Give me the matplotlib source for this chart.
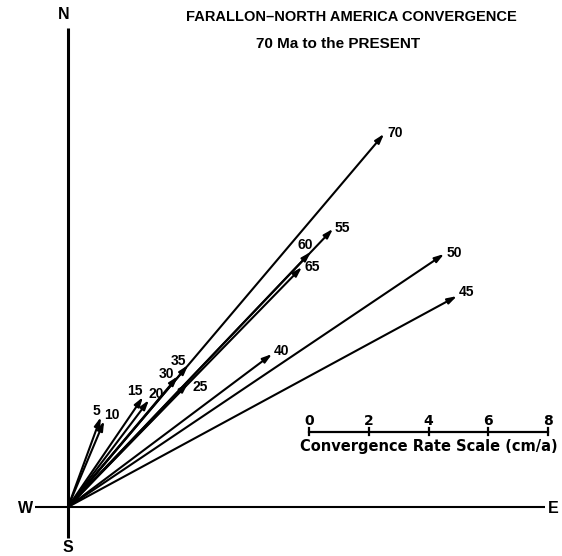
import numpy as np
import matplotlib.pyplot as plt
from matplotlib.patches import FancyArrowPatch

plt.rcParams['font.family'] = ['Liberation Sans', 'DejaVu Sans']
plt.rcParams['font.weight'] = 'bold'

# convergence vectors (cm/a), east and north components, by age (Ma)
ages = [5, 10, 15, 20, 25, 30, 35, 40, 45, 50, 55, 60, 65, 70]
v_east = [1.10, 1.21, 2.51, 2.71, 4.02, 3.68, 4.02, 6.83, 13.02, 12.59, 8.87, 8.13, 7.83, 10.58]
v_north = [3.01, 2.88, 3.68, 3.58, 4.15, 4.38, 4.75, 5.12, 7.06, 8.47, 9.31, 8.54, 8.03, 12.49]

scale_ticks = [0, 2, 4, 6, 8]

# label offsets from arrow tips, in pixels
lab_off = {5: (-4, 6), 10: (8, 6), 15: (-8, 6), 20: (7, 6), 25: (12, -4),
           30: (-11, 2), 35: (-10, 4), 40: (9, 3), 45: (10, 4), 50: (10, 1),
           55: (9, 1), 60: (-6, 7), 65: (10, 0), 70: (11, 1)}

fig = plt.figure(figsize=(5.62, 5.56), dpi=100)
ax = fig.add_axes([0, 0, 1, 1])
ax.set_xlim(-2.276, 16.536)
ax.set_ylim(-1.640, 16.971)
ax.set_aspect('equal')
ax.axis('off')

# compass axes
ax.plot([0, 0], [-1.04, 16.03], color='k', lw=2.2, solid_capstyle='butt')
ax.plot([-1.10, 15.97], [0, 0], color='k', lw=1.5, solid_capstyle='butt')
ax.text(-0.15, 16.5, 'N', ha='center', va='center', fontsize=11.5)
ax.text(0.0, -1.35, 'S', ha='center', va='center', fontsize=11.5)
ax.text(-1.43, -0.05, 'W', ha='center', va='center', fontsize=11.5)
ax.text(16.25, -0.05, 'E', ha='center', va='center', fontsize=11.5)

# convergence arrows
for a, e, n in zip(ages, v_east, v_north):
    arr = FancyArrowPatch((0, 0), (e, n), arrowstyle='-|>,head_length=0.55,head_width=0.17',
                          mutation_scale=10, lw=1.5, color='k', shrinkA=0, shrinkB=0)
    ax.add_patch(arr)
    dx, dy = lab_off[a]
    ax.annotate(str(a), xy=(e, n), xytext=(dx, dy), textcoords='offset pixels',
                ha='center', va='center', fontsize=10)

# rate scale bar
x0, y0 = 8.07, 2.51
ax.plot([x0, x0 + scale_ticks[-1]], [y0, y0], color='k', lw=1.6)
for t in scale_ticks:
    ax.plot([x0 + t, x0 + t], [y0 - 0.1, y0 + 0.13], color='k', lw=1.6)
    ax.text(x0 + t, y0 + 0.36, str(t), ha='center', va='center', fontsize=10,
            family=['DejaVu Sans'])
ax.text(x0 + 4.0, y0 - 0.5, 'Convergence Rate Scale (cm/a)', ha='center', va='center',
        fontsize=10.5, family=['DejaVu Sans'])

# title
fig.text(351 / 562, 1 - 17 / 556, 'FARALLON\u2013NORTH AMERICA CONVERGENCE', ha='center', va='center', fontsize=10.5)
fig.text(338 / 562, 1 - 44 / 556, '70 Ma to the PRESENT', ha='center', va='center', fontsize=11)

fig.savefig('out.png', dpi=100)
